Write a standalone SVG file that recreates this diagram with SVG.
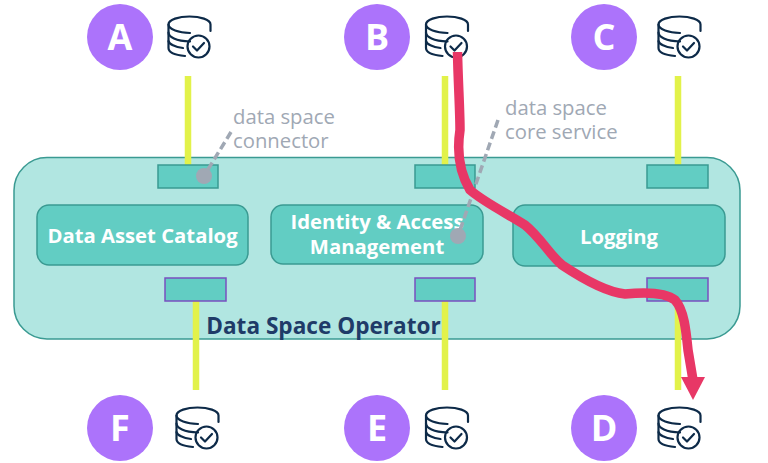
<svg xmlns="http://www.w3.org/2000/svg" width="768" height="463" viewBox="0 0 768 463">
<style>
.c{fill:#ac73fb}
.ct{font:700 36px "Open Sans","Noto Sans",sans-serif;fill:#fff;text-anchor:middle}
.box{fill:#62cdc3;stroke:#3a9a92;stroke-width:1.5}
.pbox{fill:#62cdc3;stroke:#7a4fc0;stroke-width:1.5}
.t{font:700 20.3px "Open Sans","Noto Sans",sans-serif;fill:#fff;text-anchor:middle}
.g{font:400 20.3px "Open Sans","Noto Sans",sans-serif;fill:#a0a8b4}
.y{stroke:#e2f24a;stroke-width:6.5;fill:none}
.d{stroke:#a0a8b4;stroke-width:3.5;stroke-dasharray:8 4;fill:none}
.i{fill:none;stroke:#0d2a48;stroke-width:2.2;stroke-linecap:round;stroke-linejoin:round}
</style>
<defs>
<g id="db" class="i">
<path d="M42.500 15V8.500C42.500 3.500 32 0.500 21.500 0.500S0.500 3.500 0.500 8.500 11 16.500 22 17"/>
<path d="M0.500 8.500V32C0.500 36 7 39 17 40"/>
<path d="M0.500 16.500C0.500 21 8 25 22 25.500"/>
<path d="M0.500 25C1 28 7 31 15 32"/>
<circle cx="30.500" cy="30.500" r="11"/>
<path d="M25 30.500L29 34.500 36 27"/>
</g>
</defs>
<g id="operator"><rect x="14" y="157.500" width="726" height="181.500" rx="33" fill="#b1e6e1" stroke="#3a9a92" stroke-width="1.500"/>
<text x="323.500" y="334" font-family="Open Sans, Noto Sans, sans-serif" font-weight="700" font-size="22.600" fill="#1f3b68" text-anchor="middle">Data Space Operator</text></g>
<g id="connectors">
<path class="y" d="M188 76V165M445 76V165M678 76V165M196 301V390M445 301V390M678 301V390"/>
</g>
<g id="port-a"><rect class="box" x="158" y="165" width="60" height="23"/></g>
<g id="port-b"><rect class="box" x="415" y="165" width="60" height="23"/></g>
<g id="port-c"><rect class="box" x="647" y="165" width="61" height="23"/></g>
<g id="port-f"><rect class="pbox" x="165" y="278" width="61" height="23"/></g>
<g id="port-e"><rect class="pbox" x="415" y="278" width="60" height="23"/></g>
<g id="port-d"><rect class="pbox" x="647" y="278" width="61" height="23"/></g>
<g id="catalog"><rect class="box" x="37" y="205" width="211" height="60" rx="12"/><text class="t" x="142.500" y="243">Data Asset Catalog</text></g>
<g id="iam"><rect class="box" x="271" y="205" width="212" height="59" rx="12"/><text class="t" x="377" y="229">Identity &amp; Access</text><text class="t" x="377" y="254">Management</text></g>
<g id="logging"><rect class="box" x="513" y="205" width="212" height="61" rx="12"/><text class="t" x="619" y="244">Logging</text></g>
<g id="callouts">
<path class="d" d="M231 132L204 176"/><circle cx="204" cy="176" r="8" fill="#a0a8b4"/>
<path class="d" d="M498 120L458 236"/><circle cx="458" cy="236" r="8" fill="#a0a8b4"/>
<text class="g" x="233" y="124">data space</text><text class="g" x="233" y="148">connector</text>
<text class="g" x="505" y="115">data space</text><text class="g" x="505" y="139">core service</text>
</g>
<g id="a"><circle class="c" cx="120" cy="37" r="33"/><text class="ct" x="120" y="50">A</text><use href="#db" x="168" y="16"/></g>
<g id="b"><circle class="c" cx="377" cy="37" r="33"/><text class="ct" x="377" y="50">B</text><use href="#db" x="425.500" y="16"/></g>
<g id="c"><circle class="c" cx="604" cy="37" r="33"/><text class="ct" x="604" y="50">C</text><use href="#db" x="658" y="16"/></g>
<g id="f"><circle class="c" cx="120" cy="428" r="33"/><text class="ct" x="120" y="441">F</text><use href="#db" x="176" y="407"/></g>
<g id="e"><circle class="c" cx="377" cy="428" r="33"/><text class="ct" x="377" y="441">E</text><use href="#db" x="425.500" y="407"/></g>
<g id="d"><circle class="c" cx="604" cy="428" r="33"/><text class="ct" x="604" y="441">D</text><use href="#db" x="658" y="407"/></g>
<g id="route">
<path d="M457.500 52C458 80 460 110 460 130 457 150 458 170 470 190 485 203 510 215 525 225 540 237 550 255 562 265 580 277 605 292 625 294 645 292 665 292 675 300 684 310 686 330 688 350L693 380" fill="none" stroke="#e83766" stroke-width="9.500"/>
<path d="M681 377H705L693 400Z" fill="#e83766"/>
</g>
</svg>
